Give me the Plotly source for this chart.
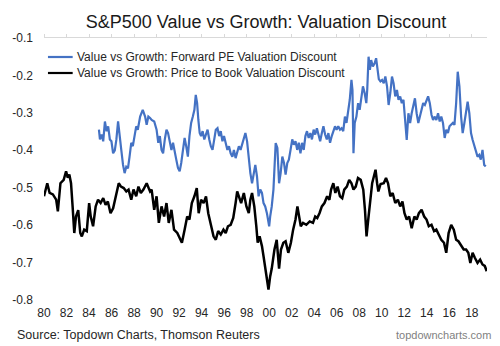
import plotly.graph_objects as go

# ---- data (decimal years, discount values) ----
pb_years = [1980.00,1980.29,1980.50,1980.79,1981.08,1981.23,1981.46,1981.75,1981.96,1982.11,1982.25,1982.40,
            1982.54,1982.69,1982.84,1983.04,1983.22,1983.36,1983.57,1983.80,1984.01,1984.15,1984.36,1984.59,
            1984.80,1985.03,1985.26,1985.47,1985.67,1985.91,1986.14,1986.35,1986.49,1986.64,1986.84,1987.08,
            1987.31,1987.51,1987.75,1987.95,1988.19,1988.39,1988.60,1988.83,1989.12,1989.42,1989.56,1989.79,
            1990.00,1990.20,1990.44,1990.67,1990.88,1991.08,1991.32,1991.55,1991.84,1992.05,1992.25,1992.49,
            1992.72,1992.92,1993.13,1993.36,1993.57,1993.74,1993.95,1994.18,1994.39,1994.59,1994.82,1995.06,
            1995.26,1995.47,1995.70,1995.94,1996.14,1996.34,1996.58,1996.81,1997.02,1997.16,1997.31,1997.51,
            1997.75,1997.98,1998.19,1998.33,1998.48,1998.68,1998.86,1998.98,1999.15,1999.36,1999.50,1999.62,
            1999.80,1999.94,2000.09,2000.23,2000.47,2000.67,2000.88,2001.05,2001.26,2001.46,2001.70,2001.93,
            2002.13,2002.34,2002.51,2002.66,2002.81,2003.01,2003.30,2003.60,2003.89,2004.09,2004.27,2004.47,
            2004.68,2004.91,2005.15,2005.35,2005.50,2005.70,2005.88,2006.08,2006.29,2006.49,2006.67,2006.90,
            2007.11,2007.31,2007.49,2007.69,2007.89,2008.13,2008.36,2008.51,2008.65,2008.80,2008.95,2009.15,
            2009.30,2009.45,2009.59,2009.70,2009.90,2010.18,2010.38,2010.56,2010.76,2010.97,2011.20,2011.43,
            2011.64,2011.84,2012.02,2012.22,2012.43,2012.66,2012.90,2013.10,2013.30,2013.54,2013.77,2013.98,
            2014.18,2014.42,2014.65,2014.85,2015.06,2015.29,2015.53,2015.73,2015.94,2016.17,2016.40,2016.61,
            2016.81,2017.05,2017.28,2017.49,2017.69,2017.87,2018.07,2018.27,2018.51,2018.74,2018.95,2019.15,
            2019.33]
pb_values = [-0.523,-0.488,-0.514,-0.518,-0.532,-0.563,-0.488,-0.479,-0.456,-0.473,-0.465,-0.488,
             -0.550,-0.621,-0.577,-0.560,-0.621,-0.630,-0.612,-0.616,-0.541,-0.577,-0.603,-0.550,
             -0.532,-0.541,-0.528,-0.546,-0.537,-0.568,-0.555,-0.523,-0.505,-0.488,-0.497,-0.501,
             -0.510,-0.505,-0.532,-0.505,-0.523,-0.497,-0.514,-0.505,-0.488,-0.510,-0.505,-0.559,
             -0.523,-0.594,-0.550,-0.577,-0.541,-0.594,-0.559,-0.612,-0.621,-0.634,-0.647,-0.612,
             -0.577,-0.585,-0.541,-0.523,-0.501,-0.568,-0.532,-0.541,-0.523,-0.568,-0.603,-0.630,
             -0.639,-0.616,-0.625,-0.612,-0.621,-0.603,-0.599,-0.581,-0.541,-0.510,-0.523,-0.541,
             -0.514,-0.550,-0.568,-0.532,-0.514,-0.550,-0.603,-0.647,-0.630,-0.656,-0.683,-0.705,
             -0.737,-0.772,-0.737,-0.716,-0.665,-0.639,-0.716,-0.665,-0.647,-0.643,-0.674,-0.647,
             -0.612,-0.585,-0.550,-0.572,-0.603,-0.594,-0.599,-0.590,-0.594,-0.577,-0.581,-0.568,
             -0.550,-0.541,-0.523,-0.532,-0.505,-0.488,-0.514,-0.497,-0.523,-0.528,-0.505,-0.497,
             -0.479,-0.488,-0.505,-0.497,-0.474,-0.479,-0.505,-0.559,-0.630,-0.585,-0.541,-0.488,
             -0.470,-0.452,-0.488,-0.510,-0.490,-0.488,-0.474,-0.488,-0.523,-0.514,-0.541,-0.532,
             -0.550,-0.537,-0.568,-0.585,-0.577,-0.608,-0.577,-0.585,-0.568,-0.559,-0.577,-0.585,
             -0.603,-0.599,-0.616,-0.612,-0.625,-0.639,-0.647,-0.674,-0.621,-0.599,-0.612,-0.639,
             -0.643,-0.656,-0.665,-0.665,-0.674,-0.701,-0.674,-0.687,-0.701,-0.692,-0.705,-0.709,
             -0.723]

pe_years = [1984.88,1984.97,1985.12,1985.26,1985.41,1985.56,1985.70,1985.85,1985.99,1986.14,1986.29,1986.43,
            1986.58,1986.73,1986.87,1987.02,1987.16,1987.31,1987.46,1987.60,1987.75,1987.89,1988.04,1988.19,
            1988.33,1988.54,1988.77,1988.98,1989.12,1989.27,1989.42,1989.56,1989.79,1990.00,1990.15,1990.29,
            1990.44,1990.58,1990.73,1990.88,1991.02,1991.17,1991.32,1991.46,1991.61,1991.75,1991.90,1992.05,
            1992.19,1992.34,1992.49,1992.63,1992.78,1992.92,1993.07,1993.22,1993.36,1993.48,1993.60,1993.71,
            1993.83,1993.95,1994.09,1994.24,1994.39,1994.53,1994.68,1994.82,1994.97,1995.12,1995.26,1995.41,
            1995.56,1995.70,1995.85,1995.99,1996.14,1996.29,1996.43,1996.58,1996.73,1996.87,1997.02,1997.16,
            1997.31,1997.46,1997.60,1997.75,1997.89,1998.04,1998.19,1998.33,1998.48,1998.62,1998.77,1998.92,
            1999.06,1999.21,1999.36,1999.50,1999.65,1999.80,2000.00,2000.09,2000.23,2000.38,2000.53,2000.58,
            2000.73,2000.88,2001.02,2001.17,2001.32,2001.46,2001.61,2001.75,2001.90,2002.05,2002.19,2002.34,
            2002.49,2002.63,2002.78,2002.92,2003.07,2003.22,2003.36,2003.51,2003.66,2003.80,2003.95,2004.09,
            2004.24,2004.39,2004.53,2004.68,2004.82,2004.97,2005.12,2005.26,2005.41,2005.56,2005.70,2005.85,
            2005.99,2006.14,2006.29,2006.43,2006.58,2006.73,2006.87,2007.02,2007.16,2007.31,2007.40,2007.49,
            2007.60,2007.75,2007.90,2008.04,2008.19,2008.33,2008.48,2008.63,2008.71,2008.83,2008.95,2009.06,
            2009.21,2009.36,2009.50,2009.65,2009.74,2009.88,2010.03,2010.18,2010.32,2010.47,2010.61,2010.76,
            2010.91,2011.05,2011.20,2011.35,2011.49,2011.64,2011.78,2011.93,2012.08,2012.22,2012.37,2012.52,
            2012.66,2012.81,2012.95,2013.10,2013.25,2013.39,2013.54,2013.68,2013.83,2013.98,2014.12,2014.27,
            2014.42,2014.56,2014.71,2014.85,2015.00,2015.15,2015.29,2015.44,2015.59,2015.73,2015.88,2016.02,
            2016.17,2016.32,2016.46,2016.61,2016.75,2016.90,2017.05,2017.19,2017.34,2017.49,2017.63,2017.78,
            2017.93,2018.07,2018.22,2018.37,2018.51,2018.66,2018.80,2018.95,2019.10,2019.24]
pe_values = [-0.345,-0.371,-0.358,-0.376,-0.323,-0.349,-0.336,-0.371,-0.376,-0.408,-0.400,-0.371,
             -0.323,-0.371,-0.400,-0.439,-0.461,-0.444,-0.448,-0.417,-0.380,-0.389,-0.362,-0.336,
             -0.345,-0.310,-0.292,-0.310,-0.332,-0.310,-0.314,-0.319,-0.323,-0.345,-0.380,-0.362,
             -0.399,-0.408,-0.371,-0.345,-0.354,-0.380,-0.399,-0.380,-0.399,-0.425,-0.447,-0.456,
             -0.434,-0.399,-0.367,-0.389,-0.417,-0.362,-0.327,-0.310,-0.292,-0.252,-0.274,-0.319,
             -0.354,-0.362,-0.349,-0.371,-0.358,-0.345,-0.371,-0.389,-0.399,-0.371,-0.345,-0.341,
             -0.362,-0.349,-0.376,-0.362,-0.380,-0.399,-0.389,-0.408,-0.417,-0.399,-0.421,-0.403,
             -0.389,-0.399,-0.385,-0.371,-0.354,-0.376,-0.425,-0.461,-0.488,-0.461,-0.439,-0.470,
             -0.523,-0.505,-0.514,-0.541,-0.550,-0.568,-0.603,-0.577,-0.550,-0.505,-0.434,-0.381,
             -0.394,-0.488,-0.461,-0.417,-0.434,-0.465,-0.434,-0.425,-0.399,-0.371,-0.385,-0.376,
             -0.399,-0.380,-0.408,-0.380,-0.399,-0.362,-0.349,-0.367,-0.354,-0.371,-0.345,-0.358,
             -0.341,-0.362,-0.376,-0.354,-0.336,-0.358,-0.371,-0.354,-0.380,-0.362,-0.349,-0.336,
             -0.345,-0.336,-0.345,-0.341,-0.349,-0.310,-0.327,-0.292,-0.265,-0.212,-0.239,-0.408,
             -0.327,-0.310,-0.274,-0.292,-0.256,-0.229,-0.247,-0.274,-0.239,-0.150,-0.185,-0.159,
             -0.176,-0.168,-0.154,-0.185,-0.210,-0.216,-0.212,-0.221,-0.203,-0.229,-0.279,-0.247,
             -0.203,-0.221,-0.256,-0.239,-0.265,-0.256,-0.274,-0.265,-0.310,-0.372,-0.301,-0.327,
             -0.301,-0.283,-0.261,-0.301,-0.327,-0.310,-0.287,-0.274,-0.279,-0.265,-0.256,-0.274,
             -0.305,-0.319,-0.310,-0.319,-0.301,-0.323,-0.310,-0.327,-0.367,-0.345,-0.354,-0.336,
             -0.332,-0.327,-0.332,-0.274,-0.190,-0.229,-0.310,-0.354,-0.327,-0.296,-0.270,-0.301,
             -0.354,-0.372,-0.389,-0.408,-0.417,-0.412,-0.425,-0.399,-0.439,-0.443]

tick_years = list(range(1980, 2020, 2))
tick_labels = ["%02d" % (y % 100) for y in tick_years]
y_ticks = [-0.1, -0.2, -0.3, -0.4, -0.5, -0.6, -0.7, -0.8]
y_labels = ["-0.1", "-0.2", "-0.3", "-0.4", "-0.5", "-0.6", "-0.7", "-0.8"]

series_names = ["Value vs Growth: Forward PE Valuation Discount",
                "Value vs Growth: Price to Book Valuation Discount"]
series_colors = ["#4472C4", "#000000"]

FONT = "Liberation Sans, Arial, sans-serif"

W, H = 500, 346
L, R, T, B = 39, 13, 38, 46
X_RANGE = [1980, 2019.35]

fig = go.Figure()
fig.add_trace(go.Scatter(x=pe_years, y=pe_values, mode="lines", name=series_names[0],
                         line=dict(color=series_colors[0], width=2.2), showlegend=False))
fig.add_trace(go.Scatter(x=pb_years, y=pb_values, mode="lines", name=series_names[1],
                         line=dict(color=series_colors[1], width=2.5), showlegend=False))
# empty trace so the top (crossing) axis gets drawn
fig.add_trace(go.Scatter(x=[], y=[], xaxis="x2", yaxis="y", showlegend=False, hoverinfo="skip"))

pw = W - L - R
ph = H - T - B
def px2x(px): return (px - L) / pw
def py2y(py): return (H - B - py) / ph

shapes = []
annotations = []
for i, (nm, col) in enumerate(zip(series_names, series_colors)):
    py = 57 + 16 * i
    shapes.append(dict(type="line", xref="paper", yref="paper",
                       x0=px2x(43), x1=px2x(68), y0=py2y(py), y1=py2y(py),
                       line=dict(color=col, width=2.2)))
    annotations.append(dict(text=nm, xref="paper", yref="paper", x=px2x(70), y=py2y(py),
                            xanchor="left", yanchor="middle", showarrow=False,
                            font=dict(family=FONT, size=12, color="#262626")))

annotations.append(dict(text="Source: Topdown Charts, Thomson Reuters", xref="paper", yref="paper",
                        x=px2x(10), y=py2y(335), xanchor="left", yanchor="middle", showarrow=False,
                        font=dict(family=FONT, size=12.5, color="#262626")))
annotations.append(dict(text="topdowncharts.com", xref="paper", yref="paper",
                        x=px2x(493), y=py2y(335), xanchor="right", yanchor="middle", showarrow=False,
                        font=dict(family=FONT, size=11, color="#7f7f7f")))

fig.update_layout(
    width=W, height=H,
    margin=dict(l=L, r=R, t=T, b=B, pad=0),
    paper_bgcolor="white", plot_bgcolor="white",
    title=dict(text="S&P500 Value vs Growth: Valuation Discount", x=266 / W, xanchor="center",
               y=1 - 22 / H, yanchor="middle", yref="container",
               font=dict(family=FONT, size=18, color="#1a1a1a")),
    showlegend=False,
    shapes=shapes,
    annotations=annotations,
    xaxis=dict(range=X_RANGE, tickvals=tick_years, ticktext=tick_labels,
               showgrid=False, zeroline=False, showline=False, ticks="",
               ticklabelstandoff=4,
               tickfont=dict(family=FONT, size=12, color="#262626")),
    xaxis2=dict(range=X_RANGE, overlaying="x", side="top", anchor="y",
                tickvals=tick_years, showticklabels=False, showgrid=False, zeroline=False,
                showline=True, linecolor="#d9d9d9", linewidth=1,
                ticks="outside", ticklen=3, tickcolor="#d9d9d9", tickwidth=1),
    yaxis=dict(range=[-0.8, -0.1], tickvals=y_ticks, ticktext=y_labels,
               showgrid=False, zeroline=False, showline=False, ticks="",
               ticklabelstandoff=10,
               tickfont=dict(family=FONT, size=12, color="#262626")),
)

fig.write_html("out.html")
